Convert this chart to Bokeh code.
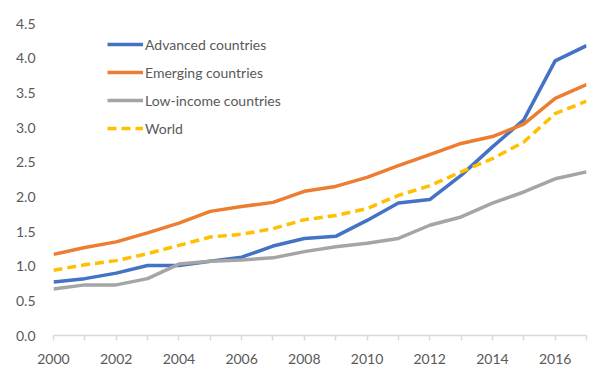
from bokeh.plotting import figure
from bokeh.models import FixedTicker, NumeralTickFormatter, Range1d, Legend, LegendItem
from bokeh.embed import file_html
from bokeh.resources import INLINE

years = list(range(2000, 2018))
advanced = [0.77, 0.82, 0.90, 1.01, 1.01, 1.07, 1.13, 1.29, 1.40, 1.43, 1.66, 1.91, 1.96, 2.31, 2.72, 3.11, 3.96, 4.18]
emerging = [1.17, 1.27, 1.35, 1.48, 1.62, 1.79, 1.86, 1.92, 2.08, 2.15, 2.28, 2.45, 2.61, 2.77, 2.87, 3.05, 3.42, 3.62]
low_income = [0.67, 0.73, 0.73, 0.82, 1.03, 1.07, 1.09, 1.12, 1.21, 1.28, 1.33, 1.40, 1.59, 1.71, 1.91, 2.07, 2.26, 2.36]
world = [0.94, 1.02, 1.08, 1.18, 1.30, 1.42, 1.46, 1.54, 1.67, 1.73, 1.83, 2.02, 2.16, 2.36, 2.55, 2.79, 3.20, 3.38]
y_ticks = [0, 0.5, 1.0, 1.5, 2.0, 2.5, 3.0, 3.5, 4.0, 4.5]
x_label_years = [2000, 2002, 2004, 2006, 2008, 2010, 2012, 2014, 2016]

FONT = "Lato"
TXT = "#595959"

p = figure(width=592, height=366, output_backend="svg", toolbar_location=None,
           x_range=Range1d(2000, 2017), y_range=Range1d(0, 4.5))
p.min_border_left = 53
p.min_border_right = 6
p.min_border_top = 23
p.min_border_bottom = 31
p.outline_line_color = None
p.xgrid.grid_line_color = None
p.ygrid.grid_line_color = None

r1 = p.line(years, advanced, line_color="#4472C4", line_width=3.5)
r2 = p.line(years, emerging, line_color="#ED7D31", line_width=3.5)
r3 = p.line(years, low_income, line_color="#A5A5A5", line_width=3.5)
r4 = p.line(years, world, line_color="#FFC000", line_width=3.5, line_dash="9 5")

# y axis
ya = p.yaxis[0]
ya.ticker = FixedTicker(ticks=y_ticks)
ya.formatter = NumeralTickFormatter(format="0.0")
ya.axis_line_color = None
ya.major_tick_line_color = None
ya.minor_tick_line_color = None
ya.major_label_text_font = FONT
ya.major_label_text_font_size = "14px"
ya.major_label_text_color = TXT
ya.major_label_standoff = 12

# x axis
xa = p.xaxis[0]
xa.ticker = FixedTicker(ticks=years)
xa.major_label_overrides = {y: (str(y) if y in x_label_years else "") for y in years}
xa.axis_line_color = "#d9d9d9"
xa.axis_line_width = 1.5
xa.major_tick_line_color = "#d9d9d9"
xa.major_tick_line_width = 1.5
xa.major_tick_in = 0
xa.major_tick_out = 5
xa.minor_tick_line_color = None
xa.major_label_text_font = FONT
xa.major_label_text_font_size = "14px"
xa.major_label_text_color = TXT
xa.major_label_standoff = 13

legend = Legend(items=[
    LegendItem(label="Advanced countries", renderers=[r1]),
    LegendItem(label="Emerging countries", renderers=[r2]),
    LegendItem(label="Low-income countries", renderers=[r3]),
    LegendItem(label="World", renderers=[r4]),
], location=(54, 197))
legend.background_fill_alpha = 0
legend.border_line_color = None
legend.padding = 0
legend.margin = 0
legend.glyph_width = 36
legend.glyph_height = 20
legend.label_height = 20
legend.spacing = 8
legend.label_standoff = 2
legend.label_text_font = FONT
legend.label_text_font_size = "14px"
legend.label_text_color = TXT
p.add_layout(legend, "center")

open("out.html", "w").write(file_html(p, INLINE))
